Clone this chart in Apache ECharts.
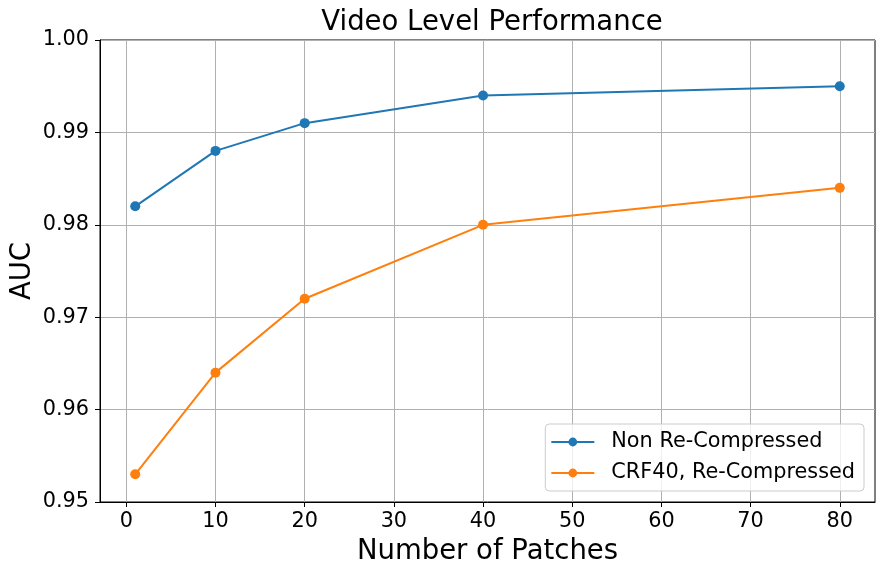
<!DOCTYPE html>
<html>
<head>
<meta charset="utf-8">
<script src="https://cdn.jsdelivr.net/npm/echarts@6/dist/echarts.min.js"></script>
<style>
  html, body { margin: 0; padding: 0; background: #fff; }
  #chart { width: 884px; height: 575px; }
</style>
</head>
<body>
<div id="chart"></div>
<script>
// number of patches on x
const patches = [1, 10, 20, 40, 80]
const xTicks = [0, 10, 20, 30, 40, 50, 60, 70, 80]
// AUC per series
const nonRecompressed = [0.982, 0.988, 0.991, 0.994, 0.995]
const crf40Recompressed = [0.953, 0.964, 0.972, 0.980, 0.984]

const font = "DejaVu Sans"
const pairs = (xs, ys) => xs.map((x, i) => [x, ys[i]])

const lineSeries = (name, color, values) => ({
  name: name,
  type: "line",
  data: pairs(patches, values),
  symbol: "circle",
  symbolSize: 10,
  showAllSymbol: true,
  itemStyle: { color: color },
  lineStyle: { color: color, width: 2 },
  emphasis: { disabled: true },
  animation: false
})

let option = {
  backgroundColor: "#fff",
  title: {
    text: "Video Level Performance",
    left: 487,
    top: 4,
    textAlign: "center",
    textStyle: { fontFamily: font, fontSize: 27.5, fontWeight: "normal", color: "#000" }
  },
  grid: {
    left: 100,
    right: 9,
    top: 40,
    bottom: 73,
    show: true,
    borderColor: "#000",
    borderWidth: 1,
    containLabel: false,
    outerBoundsMode: "none"
  },
  legend: {
    orient: "vertical",
    right: 20,
    top: 424,
    padding: [7, 9, 7, 5],
    itemGap: 9,
    itemWidth: 43,
    itemHeight: 11,
    backgroundColor: "rgba(255,255,255,0.8)",
    borderColor: "#cccccc",
    borderWidth: 1,
    borderRadius: 4,
    textStyle: {
      fontFamily: font,
      fontSize: 20.8,
      lineHeight: 22,
      color: "#000",
      padding: [0, 0, 0, 12]
    }
  },
  xAxis: {
    type: "value",
    min: -2.95,
    max: 83.95,
    name: "Number of Patches",
    nameLocation: "middle",
    nameGap: 36,
    nameMoveOverlap: false,
    nameTextStyle: { fontFamily: font, fontSize: 27.5, color: "#000" },
    axisLine: { show: true, onZero: false, lineStyle: { color: "#000", width: 1 } },
    axisTick: { show: true, length: 5, customValues: xTicks, lineStyle: { color: "#000" } },
    axisLabel: {
      customValues: xTicks,
      margin: 9,
      fontFamily: font,
      fontSize: 20.8,
      color: "#000"
    },
    splitLine: { show: true, lineStyle: { color: "#b0b0b0", width: 1 } }
  },
  yAxis: {
    type: "value",
    min: 0.95,
    max: 1.0,
    interval: 0.01,
    name: "AUC",
    nameLocation: "middle",
    nameGap: 63,
    nameMoveOverlap: false,
    nameTextStyle: { fontFamily: font, fontSize: 27.5, color: "#000" },
    axisLine: { show: true, onZero: false, lineStyle: { color: "#000", width: 1 } },
    axisTick: { show: true, length: 5, lineStyle: { color: "#000" } },
    axisLabel: {
      margin: 11,
      fontFamily: font,
      fontSize: 20.8,
      color: "#000",
      formatter: v => v.toFixed(2)
    },
    splitLine: { show: true, lineStyle: { color: "#b0b0b0", width: 1 } }
  },
  series: [
    lineSeries("Non Re-Compressed", "#1f77b4", nonRecompressed),
    lineSeries("CRF40, Re-Compressed", "#ff7f0e", crf40Recompressed)
  ]
}

const chartEl = echarts.init(document.getElementById("chart"))
chartEl.setOption(option)
</script>
</body>
</html>
